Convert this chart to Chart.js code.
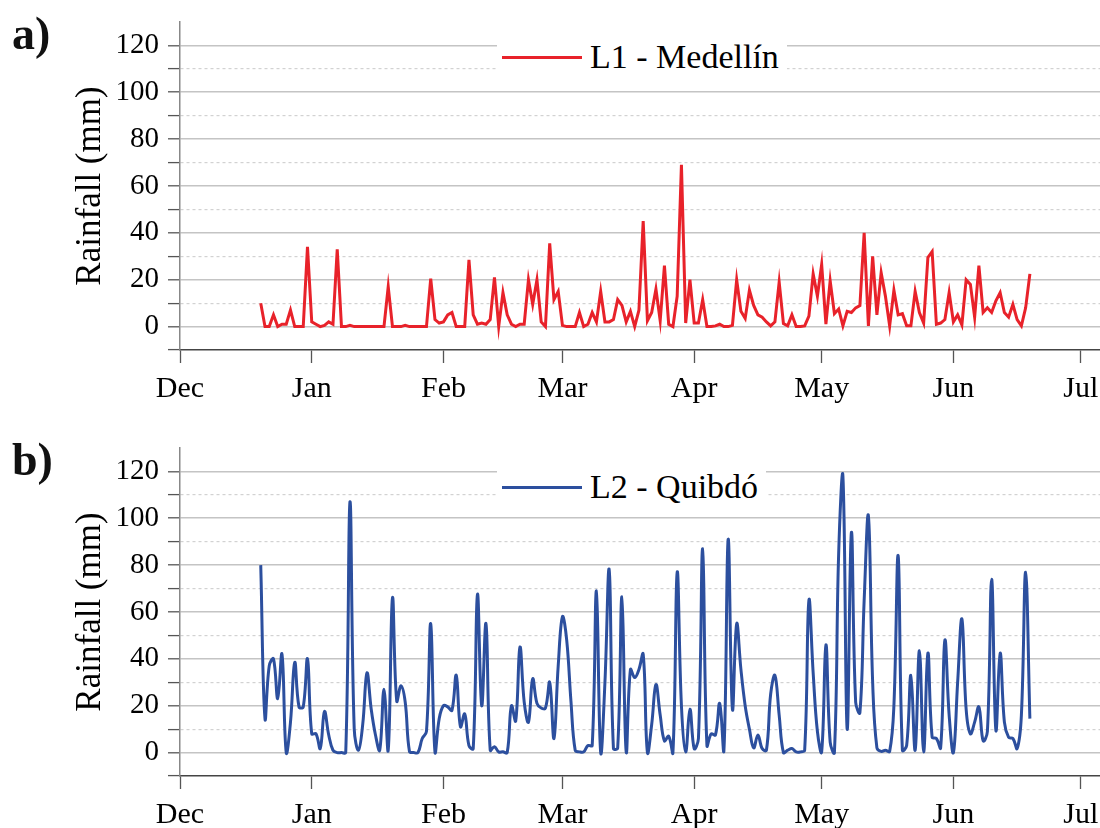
<!DOCTYPE html>
<html>
<head>
<meta charset="utf-8">
<script src="https://cdn.jsdelivr.net/npm/chart.js@4.4.1/dist/chart.umd.min.js"></script>
<style>
  html, body { margin: 0; padding: 0; background: #fff; width: 1100px; height: 828px; overflow: hidden; }
  .panel { position: absolute; left: 0; width: 1100px; }
  canvas { display: block; }
  .tag { position: absolute; left: 12px; font: bold 46px 'Liberation Serif', 'Times New Roman', serif; line-height: 46px; color: #111; }
  .legend { position: absolute; left: 497px; height: 44px; display: flex; align-items: center; background: #fff;
            padding-right: 8px; font: 34px 'Liberation Serif', 'Times New Roman', serif; color: #000; white-space: nowrap; }
  .legend .swatch { display: inline-block; width: 80px; height: 3px; margin: 0 8px 0 5px; }
</style>
</head>
<body>
<div class="panel" style="top:0;height:420px"><canvas id="chartA" width="1100" height="420"></canvas></div>
<div class="panel" style="top:426px;height:402px"><canvas id="chartB" width="1100" height="402"></canvas></div>
<div class="tag" style="top:11px">a)</div>
<div class="tag" style="top:437px">b)</div>
<div class="legend" id="legendA" style="top:35px"></div>
<div class="legend" id="legendB" style="top:465px"></div>

<script>
// Calendar: months from December to July, day 0 = 1 Dec
const monthLabels = ['Dec', 'Jan', 'Feb', 'Mar', 'Apr', 'May', 'Jun', 'Jul'];
const monthLengths = [31, 31, 28, 31, 30, 31, 30];
const firstDay = 20;            // first observation on 20 Dec
const lastAxisDay = 216.5;      // axis runs a few days into July

// Rainfall axis: -10..130 mm, labelled every 20 mm from 0 to 120
const yMin = -10, yMax = 130, yStep = 10;
const yLabelled = [0, 20, 40, 60, 80, 100, 120];

// Daily rainfall (mm), 20 Dec – 19 Jun
const medellin = [
  10, 0, 0, 5, 0, 1, 1, 7, 0, 0, 0, 34,
  2, 1, 0, 0.5, 2, 1, 33, 0, 0, 0.5, 0, 0, 0, 0, 0, 0, 0, 0, 17, 0, 0, 0, 0.5, 0, 0, 0, 0, 0, 20.5, 3,
  1.5, 2, 5, 6, 0, 0, 0, 28.5, 5, 1, 1.5, 1, 3, 21, 0, 14.5, 5, 1, 0, 1, 1, 20, 9.5, 20, 2, 0,
  35.5, 11.5, 15, 0.5, 0, 0, 0, 6, 0, 1, 6, 2, 15, 2, 2, 3, 11.5, 9, 2, 6.5, 0, 7, 45, 2.5,
  6, 16, 2.5, 26, 1, 0, 13, 69, 1.5, 20, 1.5, 1.5, 11.5, 0, 0, 0.3, 1, 0, 0, 0.5, 20, 6.5, 3.5, 15.5,
  9, 5, 4, 2, 0.3, 2, 19, 1.3, 0.3, 5, 0, 0, 0.3, 4.5, 22.5, 13, 26.5, 1, 19.5, 5.5, 7.5, 0.3, 6.5, 6,
  8, 9, 40, 0.3, 30, 5, 23, 13, 0.3, 15.5, 5, 5.5, 0.3, 0.3, 15, 6, 1.5, 29.5, 32, 1, 1.5, 3, 14.5, 2,
  5, 0.7, 20, 18, 4, 26, 6, 8, 6, 11, 14.5, 6, 4, 9.5, 3, 0.3, 8, 22.5
];
const quibdo = [
  80, 14.5, 37, 40, 23, 42, 0, 13, 38.5, 19.5, 19.5, 40,
  8, 8, 1.7, 17.5, 7.5, 1, 0, 0, 0, 107, 10, 1, 12, 34, 18.5, 7.5, 1, 27, 1, 66, 22, 28.5, 21.5, 0.5, 0, 0, 6, 9, 55, 0.3,
  14.5, 20, 19.5, 18, 33, 11, 16.5, 3, 1.7, 67.5, 20, 55, 1, 2.5, 0.3, 0.3, 0, 20, 13.5, 45, 21.5, 13,
  31.5, 21, 19, 19, 30, 6, 37, 58, 48, 22, 1, 0.3, 0.3, 3, 3, 69, 0, 30, 78, 1.7, 2, 66.5, 0.3, 35.5, 32, 35.5, 42, 0,
  12, 29, 16, 5, 7, 0, 77, 20, 0.3, 18.5, 1.7, 6, 87, 3, 8, 7.5, 21, 1, 91, 18.5, 55, 35.5, 20, 10,
  2, 7.5, 1.7, 1, 25, 33, 16, 0, 1, 1.7, 0.3, 0.3, 1, 65, 34, 9, 0.3, 46, 4.5, 0, 85, 118, 10, 94,
  21.5, 17, 65, 101, 30, 2, 0.5, 1, 0.5, 20, 84, 1, 3, 33, 1, 43.5, 0.3, 42.5, 6.5, 6, 2, 48, 16, 0,
  30, 57, 18.5, 8, 13, 19.5, 5, 9, 74, 9.5, 42.5, 13, 6.5, 6, 1.7, 16, 77, 14.5
];
const seriesNames = ['L1 - Medellín', 'L2 - Quibdó'];
const seriesColors = ['#e8222a', '#2c4f9e'];

// Day offsets of the first of each month
const monthStarts = monthLabels.map((_, i) => monthLengths.slice(0, i).reduce((a, b) => a + b, 0));
// Every 10 mm gets a tick; labelled values get solid grid lines, the rest dashed ones
const yTicks = [];
for (let v = yMin; v <= yMax; v += yStep) yTicks.push(v);
const isLabelled = v => yLabelled.includes(v);
const inGrid = v => v >= yLabelled[0] && v <= yLabelled[yLabelled.length - 1];

const serif = "'Liberation Serif', 'Times New Roman', serif";
Chart.defaults.font.family = serif;
Chart.defaults.color = '#000';

function toPoints(values) {
  return values.map((v, i) => ({ x: firstDay - 1 + i, y: v }));
}

function buildLegend(id, name, color) {
  const el = document.getElementById(id);
  const sw = document.createElement('span');
  sw.className = 'swatch';
  sw.style.background = color;
  el.appendChild(sw);
  el.appendChild(document.createTextNode(name));
}

function rainChart(canvasId, name, values, color, tension, axisHeight) {
  return new Chart(document.getElementById(canvasId), {
    type: 'line',
    data: {
      datasets: [{
        label: name,
        data: toPoints(values),
        borderColor: color,
        borderWidth: 3,
        pointRadius: 0,
        tension: tension,
        fill: false
      }]
    },
    options: {
      responsive: false,
      animation: false,
      devicePixelRatio: 1,
      layout: { padding: { top: 22, left: 0, right: 0, bottom: 0 } },
      plugins: { legend: { display: false }, tooltip: { enabled: false } },
      scales: {
        x: {
          type: 'linear',
          min: 0,
          max: lastAxisDay,
          afterBuildTicks: s => { s.ticks = monthStarts.map(v => ({ value: v })); },
          afterFit: s => { s.height = axisHeight; s.paddingLeft = 0; s.paddingRight = 0; },
          ticks: {
            autoSkip: false,
            maxRotation: 0,
            padding: 8,
            color: '#000',
            font: { size: 30, family: serif },
            callback: (v, i) => monthLabels[i]
          },
          grid: { drawOnChartArea: false, drawTicks: true, tickLength: 13, tickColor: '#555', tickWidth: 1.3 },
          border: { color: '#444', width: 1.5 }
        },
        y: {
          min: yMin,
          max: yMax,
          afterBuildTicks: s => { s.ticks = yTicks.map(v => ({ value: v })); },
          afterFit: s => { s.width = 180; s.paddingTop = 0; s.paddingBottom = 0; },
          ticks: {
            autoSkip: false,
            padding: 9,
            color: '#000',
            font: { size: 29, family: serif },
            callback: v => isLabelled(v) ? String(v) : ''
          },
          title: {
            display: true,
            text: 'Rainfall (mm)',
            color: '#000',
            font: { size: 35, family: serif },
            padding: { top: 70, bottom: 0 }
          },
          grid: {
            drawTicks: true,
            tickLength: 12,
            tickWidth: 1.3,
            color: c => {
              const v = c.tick ? c.tick.value : null;
              if (v === null || !inGrid(v)) return 'rgba(0,0,0,0)';
              return isLabelled(v) ? '#c4c4c4' : '#d2d2d2';
            },
            lineWidth: c => (c.tick && isLabelled(c.tick.value)) ? 1.6 : 1.2,
            tickColor: c => (c.tick && c.tick.value > yLabelled[yLabelled.length - 1]) ? 'rgba(0,0,0,0)' : '#555'
          },
          border: {
            color: '#888',
            width: 1.5,
            dash: c => (c.tick && !isLabelled(c.tick.value)) ? [3, 3] : []
          }
        }
      }
    }
  });
}

buildLegend('legendA', seriesNames[0], seriesColors[0]);
buildLegend('legendB', seriesNames[1], seriesColors[1]);
rainChart('chartA', seriesNames[0], medellin, seriesColors[0], 0, 70);
rainChart('chartB', seriesNames[1], quibdo, seriesColors[1], 0.4, 52);
</script>
</body>
</html>
